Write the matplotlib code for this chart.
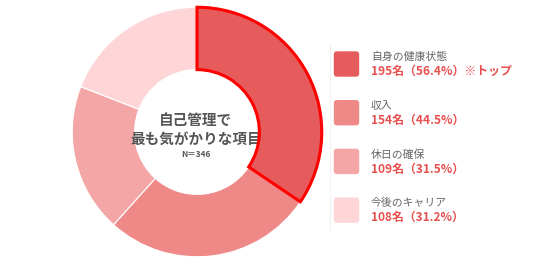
import matplotlib
matplotlib.use("Agg")
import matplotlib.pyplot as plt
import matplotlib.patches as patches

plt.rcParams['font.family'] = ['Noto Sans CJK JP', 'DejaVu Sans']

# data
labels = ["自身の健康状態", "収入", "休日の確保", "今後のキャリア"]
counts = [195, 154, 109, 108]
percents = [56.4, 44.5, 31.5, 31.2]
notes = ["※トップ", "", "", ""]
colors = ["#E65B5B", "#EF8987", "#F4A6A7", "#FED6D7"]
total_n = 346

W, H = 536, 267
fig = plt.figure(figsize=(W / 100, H / 100), dpi=100)
fig.patch.set_facecolor("white")

# donut, centre ~ (197,132) px, radius ~126 px
cx, cy, r = 197, 132, 126
ax = fig.add_axes([(cx - r) / W, (H - cy - r) / H, 2 * r / W, 2 * r / H])
wedges, _ = ax.pie(counts, colors=colors, startangle=90, counterclock=False,
                   radius=1.0,
                   wedgeprops=dict(width=0.5, edgecolor="white", linewidth=0.8))
ax.set_xlim(-1.01, 1.01)
ax.set_ylim(-1.01, 1.01)
ax.set_aspect('equal')
ax.axis('off')

# highlight the top item
wedges[0].set_edgecolor("#FF0000")
wedges[0].set_linewidth(2.2)
wedges[0].set_zorder(5)

ax.text(-0.01, 0.095, "自己管理で", ha='center', va='center',
        fontsize=10.5, fontweight='bold', color="#555555")
ax.text(-0.01, -0.055, "最も気がかりな項目", ha='center', va='center',
        fontsize=10.5, fontweight='bold', color="#555555")
ax.text(-0.01, -0.18, f"N＝{total_n}", ha='center', va='center',
        fontsize=6, fontweight='bold', color="#555555")

# legend overlay in pixel coords
lax = fig.add_axes([0, 0, 1, 1])
lax.set_xlim(0, W)
lax.set_ylim(H, 0)
lax.axis('off')
lax.patch.set_alpha(0)

lax.plot([330, 330], [44, 232], color="#F2F2F2", lw=0.8)

for i, (lab, c, p, note, col) in enumerate(zip(labels, counts, percents, notes, colors)):
    y0 = 51 + i * 48.7
    lax.add_patch(patches.FancyBboxPatch((335, y0 + 1.5), 23, 23,
                                         boxstyle="round,pad=1.2,rounding_size=3",
                                         facecolor=col, edgecolor="none"))
    lax.text(371, y0 + 6, lab, ha='left', va='center', fontsize=7.8,
             color="#666666")
    val = f"{c}名（{p}%）"
    if note:
        val += note
    lax.text(371, y0 + 20.5, val, ha='left', va='center', fontsize=8.6,
             fontweight='bold', color="#E8504F")

fig.savefig("out.png", dpi=100, facecolor="white")
